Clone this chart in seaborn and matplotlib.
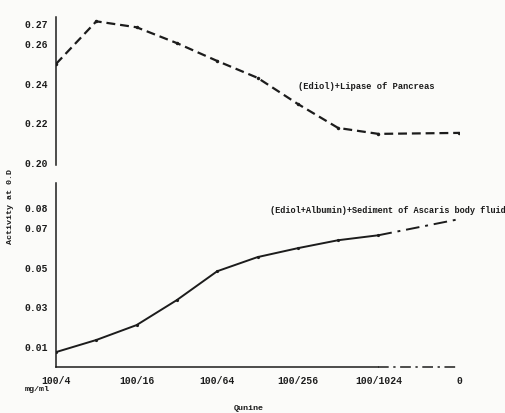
import numpy as np
import pandas as pd
import seaborn as sns
import matplotlib.pyplot as plt
from matplotlib import ticker

# posicoes no eixo x (diluicoes de quinina), 9 = sem ponto medido
pos_sup = [0, 1, 2, 3, 4, 5, 6, 7, 8, 10]
val_sup = [0.2500, 0.2715, 0.2685, 0.2605, 0.2515, 0.2430, 0.2298, 0.2177, 0.2147, 0.2152]

pos_inf = [0, 1, 2, 3, 4, 5, 6, 7, 8, 10]
val_inf = [0.0075, 0.0136, 0.0211, 0.0337, 0.0482, 0.0553, 0.0598, 0.0638, 0.0663, 0.0744]

xticks_pos = [0, 2, 4, 6, 8, 10]
xticks_lab = ['100/4', '100/16', '100/64', '100/256', '100/1024', '0']

yticks_sup = [0.20, 0.22, 0.24, 0.26, 0.27]
yticks_inf = [0.01, 0.03, 0.05, 0.07, 0.08]

sns.set_style('white')
plt.rcParams['font.family'] = ['Liberation Mono', 'DejaVu Sans Mono']
plt.rcParams['font.weight'] = 'bold'

cor = '#1c1c1c'
fig = plt.figure(figsize=(5.06, 4.13), dpi=100)
fig.patch.set_facecolor('#fbfbf9')

ax1 = fig.add_axes([0.1107, 0.6005, 0.7964, 0.3584])
ax2 = fig.add_axes([0.1107, 0.1114, 0.7964, 0.4455])

for ax in (ax1, ax2):
    ax.set_facecolor('none')
    ax.set_xlim(0, 10)
    for s in ['top', 'right']:
        ax.spines[s].set_visible(False)
    ax.spines['left'].set_color(cor)
    ax.spines['left'].set_linewidth(1.1)
    ax.tick_params(axis='y', direction='inout', length=4, width=0.8, colors=cor,
                   labelsize=7, pad=4)
    ax.tick_params(axis='y', which='minor', direction='inout', length=3, width=0.7, colors=cor)

# painel superior: lipase de pancreas
dados_sup = pd.DataFrame({'x': pos_sup, 'y': val_sup})
sns.lineplot(data=dados_sup, x='x', y='y', ax=ax1, color=cor, linestyle=(0, (4, 2.2)),
             linewidth=1.6, marker='o', markersize=2.5, markeredgewidth=0)
ax1.set_ylim(0.199, 0.2737)
ax1.spines['bottom'].set_visible(False)
ax1.set_xticks([])
ax1.set_yticks(yticks_sup)
ax1.set_yticklabels(['%.2f' % v for v in yticks_sup])
ax1.yaxis.set_minor_locator(ticker.FixedLocator([0.21, 0.23, 0.25]))
ax1.set_xlabel('')
ax1.set_ylabel('')
ax1.text(6.0, 0.2387, '(Ediol)+Lipase of Pancreas', fontsize=6.3, color=cor, va='center')

# painel inferior: albumina + sedimento
dados_inf = pd.DataFrame({'x': pos_inf, 'y': val_inf})
sns.lineplot(data=dados_inf.iloc[:9], x='x', y='y', ax=ax2, color=cor, linewidth=1.4,
             marker='o', markersize=2.3, markeredgewidth=0)
sns.lineplot(data=dados_inf.iloc[8:], x='x', y='y', ax=ax2, color=cor, linewidth=1.4,
             linestyle=(0, (7, 3, 1.5, 3)))
ax2.set_ylim(0, 0.0926)
ax2.set_yticks(yticks_inf)
ax2.set_yticklabels(['%.2f' % v for v in yticks_inf])
ax2.yaxis.set_minor_locator(ticker.FixedLocator([0.02, 0.04, 0.06]))
ax2.set_xticks(xticks_pos)
ax2.set_xticklabels(xticks_lab)
ax2.xaxis.set_minor_locator(ticker.FixedLocator([1, 3, 5, 7, 9]))
ax2.tick_params(axis='x', which='both', direction='inout', length=3, width=0.8, colors=cor,
                labelsize=7, pad=5)
ax2.spines['bottom'].set_bounds(0, 8)
ax2.spines['bottom'].set_color(cor)
ax2.spines['bottom'].set_linewidth(1.1)
ax2.axhline(0, xmin=0.8, xmax=1.0, color=cor, linewidth=1.1, linestyle=(0, (7, 3, 1.5, 3)),
            clip_on=False)
ax2.set_xlabel('')
ax2.set_ylabel('')
ax2.text(5.3, 0.079, '(Ediol+Albumin)+Sediment of Ascaris body fluid', fontsize=6.2,
         color=cor, va='center', clip_on=False)

fig.text(0.02, 0.50, 'Activity at 0.D', rotation=90, fontsize=6, color=cor,
         va='center', ha='center')
fig.text(0.048, 0.056, 'mg/ml', fontsize=6, color=cor, va='center')
fig.text(0.492, 0.012, 'Qunine', fontsize=6, color=cor, va='center', ha='center')

fig.savefig('out.png', dpi=100, facecolor=fig.get_facecolor())
